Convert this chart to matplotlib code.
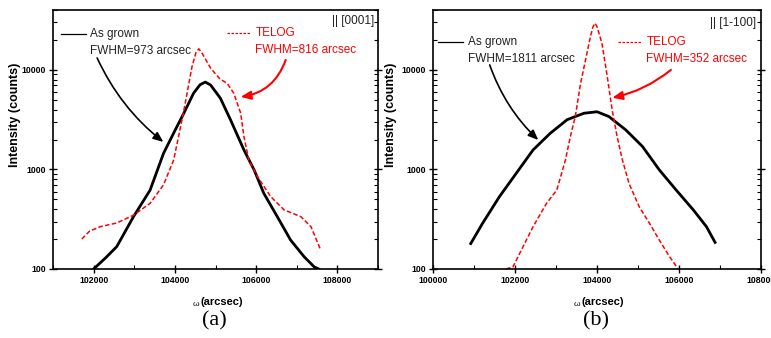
import matplotlib
matplotlib.use('Agg')
import matplotlib.pyplot as plt
from matplotlib.ticker import MultipleLocator, LogLocator, NullFormatter, FixedLocator

plt.rcParams['font.family'] = ['Liberation Sans', 'DejaVu Sans']

# (a) || [0001]
a_grown_x = [102000, 102300, 102570, 102980, 103390, 103720, 104010, 104220, 104460,
             104620, 104750, 104880, 105120, 105370, 105700, 105950, 106190, 106520,
             106850, 107180, 107430, 107540]
a_grown_y = [100, 130, 168, 335, 620, 1450, 2500, 3670, 5840, 7100, 7550, 7050, 5200,
             3150, 1570, 990, 575, 336, 195, 133, 105, 100]
a_telog_x = [101710, 101900, 102160, 102570, 102980, 103390, 103720, 103970, 104090,
             104200, 104300, 104420, 104520, 104590, 104680, 104880, 105100, 105290,
             105450, 105620, 105700, 105820, 106030, 106360, 106690, 107100, 107350,
             107590]
a_telog_y = [200, 240, 266, 290, 347, 457, 700, 1245, 2140, 3530, 5840, 10700, 15000,
             16300, 14500, 10400, 8200, 7300, 5840, 3670, 2140, 1245, 850, 533, 392,
             336, 266, 155]

# (b) || [1-100]
b_grown_x = [100920, 101210, 101620, 102030, 102440, 102860, 103270, 103680, 104000,
             104290, 104700, 105110, 105520, 105930, 106350, 106670, 106880]
b_grown_y = [180, 288, 533, 915, 1570, 2310, 3160, 3670, 3800, 3400, 2500, 1700, 990,
             622, 392, 266, 185]
b_telog_x = [101780, 101950, 102440, 102770, 103020, 103230, 103350, 103470, 103600,
             103720, 103840, 103900, 103950, 104000, 104120, 104250, 104370, 104490,
             104620, 104780, 105030, 105280, 105520, 105770, 105980]
b_telog_y = [100, 105, 266, 457, 622, 1245, 2140, 3400, 7340, 12600, 21600, 27000,
             29500, 27200, 18600, 8600, 3980, 2140, 1245, 725, 422, 288, 195, 133, 100]

panels = [
    dict(gx=a_grown_x, gy=a_grown_y, tx=a_telog_x, ty=a_telog_y, xlim=(101000, 109000),
         g_fwhm='FWHM=973 arcsec', t_fwhm='FWHM=816 arcsec', dirn='|| [0001]',
         g_arrow=((102086, 13200), (103716, 1890)), t_arrow=((106728, 12600), (105617, 5360)),
         g_rad=0.12, t_rad=-0.3, tag='(a)',
         box=(53, 378, 10, 269), ylab_x=21,
         leg=(61, 34, 90, 227, 33, 256, 374, 21)),
    dict(gx=b_grown_x, gy=b_grown_y, tx=b_telog_x, ty=b_telog_y, xlim=(100000, 108000),
         g_fwhm='FWHM=1811 arcsec', t_fwhm='FWHM=352 arcsec', dirn='|| [1-100]',
         g_arrow=((101383, 11230), (102568, 1977)), t_arrow=((105802, 10000), (104370, 5250)),
         g_rad=0.12, t_rad=-0.12, tag='(b)',
         box=(433, 761, 10, 269), ylab_x=397,
         leg=(438, 42, 468, 618, 42, 647, 756, 23)),
]

W, H = 771, 338
fig = plt.figure(figsize=(W / 100, H / 100), dpi=100)

RED = '#ff0000'
TXT = '#222222'

for p in panels:
    l, r, t, b = p['box']
    ax = fig.add_axes([l / W, 1 - b / H, (r - l) / W, (b - t) / H])
    ax.plot(p['gx'], p['gy'], color='black', lw=2.0)
    ax.plot(p['tx'], p['ty'], color=RED, lw=1.1, ls=(0, (3, 1.5)))
    ax.set_yscale('log')
    ax.set_xlim(*p['xlim'])
    ax.set_ylim(100, 40000)
    ax.xaxis.set_major_locator(MultipleLocator(2000))
    ax.xaxis.set_minor_locator(MultipleLocator(1000))
    ax.yaxis.set_major_locator(FixedLocator([100, 1000, 10000]))
    ax.yaxis.set_minor_locator(LogLocator(base=10, subs=range(2, 10)))
    ax.yaxis.set_minor_formatter(NullFormatter())
    ax.yaxis.set_major_formatter(plt.FuncFormatter(lambda v, _: '%d' % v))
    for s in ax.spines.values():
        s.set_linewidth(1.2)
    ax.tick_params(which='major', direction='inout', length=6, width=1, labelsize=6.3, pad=2,
                   right=True, top=False)
    ax.tick_params(which='minor', direction='in', length=3, width=0.8, right=True, top=False)
    for lab in ax.get_xticklabels() + ax.get_yticklabels():
        lab.set_fontweight('bold')

    ax.set_ylabel('Intensity (counts)', fontsize=9, fontweight='bold')
    ax.yaxis.set_label_coords((p['ylab_x'] - l) / (r - l), (b - 115) / (b - t))

    # legend-like annotations (pixel positions converted to axes fractions)
    def fx(px):
        return (px - l) / (r - l)

    def fy(py):
        return (b - py) / (b - t)

    tr = ax.transAxes
    lx, ly, tx0, rx, rly, rtx, dirx, diry = p['leg']
    ax.plot([fx(lx), fx(lx + 25)], [fy(ly), fy(ly)], color='black', lw=0.9, transform=tr)
    ax.text(fx(tx0), fy(ly), 'As grown', color=TXT, fontsize=8.5, va='center', transform=tr)
    ax.text(fx(tx0), fy(ly + 17), p['g_fwhm'], color=TXT, fontsize=8.5, va='center', transform=tr)
    ax.plot([fx(rx), fx(rx + 24)], [fy(rly), fy(rly)], color=RED, lw=0.9, ls=(0, (2, 1.2)),
            transform=tr)
    ax.text(fx(rtx), fy(rly), 'TELOG', color=RED, fontsize=8.5, va='center', transform=tr)
    ax.text(fx(rtx - 1), fy(rly + 17), p['t_fwhm'], color=RED, fontsize=8.5, va='center',
            transform=tr)
    ax.text(fx(dirx), fy(diry), p['dirn'], color=TXT, fontsize=8.5, ha='right', va='center',
            transform=tr)

    (gs, ge) = p['g_arrow']
    ax.annotate('', xy=ge, xytext=gs,
                arrowprops=dict(arrowstyle='-|>,head_length=0.6,head_width=0.25', color='black',
                                lw=1.2, connectionstyle='arc3,rad=%g' % p['g_rad'],
                                shrinkA=0, shrinkB=0))
    (ts, te) = p['t_arrow']
    ax.annotate('', xy=te, xytext=ts,
                arrowprops=dict(arrowstyle='-|>,head_length=0.6,head_width=0.25', color=RED,
                                lw=1.5, connectionstyle='arc3,rad=%g' % p['t_rad'],
                                shrinkA=0, shrinkB=0))

    cx = (l + r) / 2
    fig.text((cx - 20) / W, 1 - 304 / H, '\u03c9', fontsize=6, ha='center', va='center')
    fig.text((cx - 15) / W, 1 - 302 / H, '(arcsec)', fontsize=8, fontweight='bold',
             ha='left', va='center')
    fig.text((cx - 1) / W, 1 - 321 / H, p['tag'], fontsize=16, family='Liberation Serif',
             ha='center', va='center')

fig.savefig('out.png', dpi=100)
